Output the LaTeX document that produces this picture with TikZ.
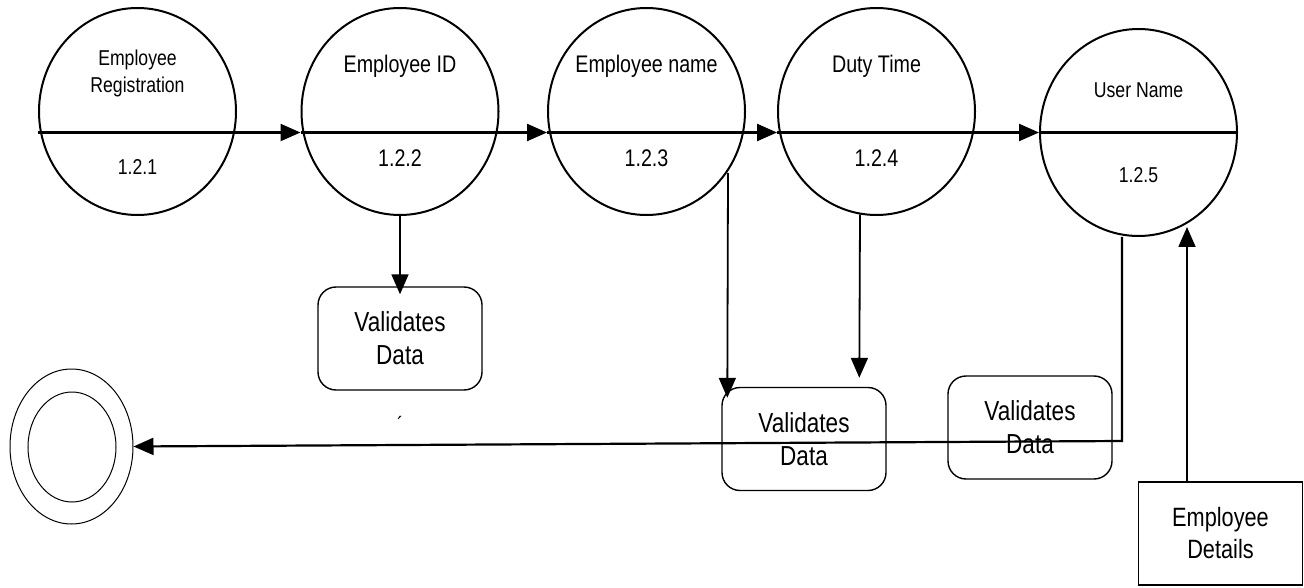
\documentclass[tikz,border=0pt]{standalone}
\usepackage{fontspec}
\setmainfont{Liberation Sans}[FakeStretch=0.82]
\usetikzlibrary{arrows.meta,calc,shapes.geometric}
\begin{document}
\begin{tikzpicture}[x=1pt,y=-1pt,
  proc/.style={draw,ellipse,line width=2pt,minimum width=197pt,minimum height=207pt,inner sep=0pt},
  lblbig/.style={anchor=base,inner sep=0pt,font=\fontsize{24}{28}\selectfont},
  lblsmall/.style={inner sep=0pt,align=center,font=\fontsize{21.5}{27}\selectfont},
  valbox/.style={draw,line width=1.4pt,rounded corners=18pt,minimum width=164pt,minimum height=103pt,align=center,inner sep=0pt,font=\fontsize{27.5}{33}\selectfont},
  storebox/.style={draw,line width=1.4pt,minimum width=164pt,minimum height=103pt,align=center,inner sep=0pt,font=\fontsize{26.5}{32}\selectfont},
  termring/.style={draw,ellipse,line width=1pt,inner sep=0pt},
  flow/.style={line width=2.2pt,-{Triangle[length=20pt,width=17pt]}},
  vflow/.style={line width=1.8pt,-{Triangle[length=20pt,width=17pt]}},
  plain/.style={line width=2.2pt}
]
\useasboundingbox (0,0) rectangle (1304,588);

% processes
\node[proc] (c1) at (137.5,111.5) {};
\node[proc] (c2) at (400,111.5) {};
\node[proc] (c3) at (646.5,111.5) {};
\node[proc] (c4) at (876.5,111.5) {};
\node[proc] (c5) at (1138.5,132.5) {};

% labels
\node[lblsmall] (t1) at (137.5,73) {Employee\\Registration};
\node[lblsmall,anchor=base] (n1) at (137.5,175) {1.2.1};
\node[lblbig] (t2) at (400,73) {Employee ID};
\node[lblbig] (n2) at (400,167) {1.2.2};
\node[lblbig] (t3) at (646.5,73) {Employee name};
\node[lblbig] (n3) at (646.5,167) {1.2.3};
\node[lblbig] (t4) at (876.5,73) {Duty Time};
\node[lblbig] (n4) at (876.5,167) {1.2.4};
\node[lblsmall,anchor=base] (t5) at (1138.5,98) {User Name};
\node[lblsmall,anchor=base] (n5) at (1138.5,183) {1.2.5};

% boxes
\node[valbox] (bA) at (400,338.5) {Validates\\Data};
\node[valbox] (bB) at (804,439) {Validates\\Data};
\node[valbox] (bC) at (1030,427.5) {Validates\\Data};
\node[storebox] (ed) at (1220.5,533.5) {Employee\\Details};

% terminator
\node[termring,minimum width=123pt,minimum height=155pt] (dc) at (71.5,446.5) {};
\node[termring,minimum width=88pt,minimum height=110pt] (dci) at (72,447) {};

% stray mark
\node[inner sep=0pt,font=\fontsize{22}{22}\selectfont] (tick) at (400,424) {´};

% horizontal flow
\draw[flow] (c1.west |- c5.center) -- (c2.west |- c5.center);
\draw[flow] (c2.west |- c5.center) -- (c3.west |- c5.center);
\draw[flow] (c3.west |- c5.center) -- (c4.west |- c5.center);
\draw[flow] (c4.west |- c5.center) -- (c5.west);
\draw[plain] (c5.west) -- (c5.east);

% vertical flows
\draw[vflow] (c2.south) -- ($(bA.north)+(0,8)$);
\draw[vflow] ($(c3.center)+(81.5,61.5)$) -- ($(bB.north west)+(6,11)$);
\draw[vflow] ($(c4.center)+(-16.5,103)$) -- ($(bB.north west)+(138,-9)$);

% from user name to terminator
\coordinate (k) at (1122,441);
\draw[flow] (c5.south -| k) -- (k) -- (dc.east);

% employee details up
\coordinate (u) at (1187,227);
\draw[vflow] (u |- ed.north) -- (u);
\end{tikzpicture}
\end{document}
